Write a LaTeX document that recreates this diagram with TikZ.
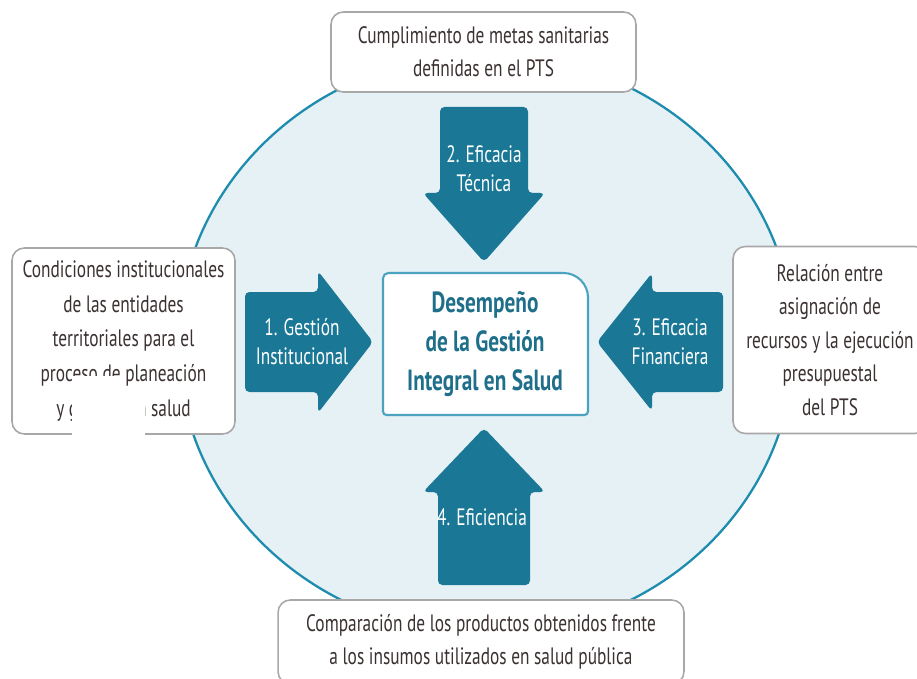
\documentclass[tikz,border=0pt]{standalone}
\usepackage{fontspec}
\setmainfont{PT Sans}[FakeStretch=0.73]
\usetikzlibrary{positioning}
\definecolor{ringblue}{HTML}{1E8CAE}
\definecolor{ringfill}{HTML}{E5F1F4}
\definecolor{arrowteal}{HTML}{1A7896}
\definecolor{coreteal}{HTML}{1F6F8B}
\definecolor{coreline}{HTML}{4BA3C0}
\definecolor{boxgray}{HTML}{A8A8A8}
\definecolor{textdark}{HTML}{3B3131}

\begin{document}
\begin{tikzpicture}[x=0.02cm,y=-0.02cm,
  outerbox/.style={draw=boxgray, line width=0.9pt, rounded corners=7pt, fill=white,
    align=center, text=textdark, font=\fontsize{13.5}{19}\selectfont, inner sep=0pt},
  arrowshape/.style={fill=arrowteal, rounded corners=2.5pt},
  arrowtext/.style={text=white, align=center, font=\fontsize{13.5}{16.5}\selectfont},
  coretext/.style={text=coreteal, align=center, font=\bfseries\fontsize{16.6}{22.4}\selectfont}]
  \useasboundingbox (0,0) rectangle (917,679);

  \fill[ringfill] (486,344) ellipse [x radius=6.16cm, y radius=5.8cm];
  \draw[ringblue, line width=1.3pt] (486,344) ellipse [x radius=6.16cm, y radius=5.8cm];

  \node[outerbox, minimum width=6.1cm, minimum height=1.6cm] (metas) at (483.5,52)
    {Cumplimiento de metas sanitarias\\definidas en el PTS};
  \node[outerbox, minimum width=4.46cm, minimum height=3.72cm,
    font=\fontsize{13.5}{19.7}\selectfont] (condiciones) at (123.5,341)
    {Condiciones institucionales\\de las entidades\\territoriales para el\\proceso de planeación\\y gestión en salud};
  \node[outerbox, minimum width=3.88cm, minimum height=3.74cm,
    font=\fontsize{13.5}{19.1}\selectfont] (relacion) at (830,340)
    {Relación entre\\asignación de\\recursos y la ejecución\\presupuestal\\del PTS};
  \node[outerbox, minimum width=8.12cm, minimum height=1.68cm] (comparacion) at (481,642)
    {Comparación de los productos obtenidos frente\\a los insumos utilizados en salud pública};
  \fill[white] (72,376) rectangle (124,440);
  \fill[white] (72,386) rectangle (145,440);

  \fill[white] (383,415) [rounded corners=3pt] -- (383,273) [rounded corners=14pt] -- (588,273)
    [rounded corners=2pt] -- (588,415) -- cycle;
  \draw[coreline, line width=1.2pt] (383,415) [rounded corners=3pt] -- (383,273) [rounded corners=14pt] -- (588,273)
    [rounded corners=2pt] -- (588,415) -- cycle;
  \node[coretext] (core) at (485,344) {Desempeño\\de la Gestión\\Integral en Salud};

  \fill[arrowshape] (245,292) -- (318,292) -- (318,271) -- (373,342) -- (318,413) -- (318,392) -- (245,392) -- cycle;
  \node[arrowtext] (gestion) at (302,342) {1. Gestión\\Institucional};

  \fill[arrowshape] (440,107) -- (528,107) -- (528,193) -- (545,193) -- (484,262) -- (423,193) -- (440,193) -- cycle;
  \node[arrowtext] (tecnica) at (484,169) {2. Eficacia\\Técnica};

  \fill[arrowshape] (723,292) -- (652,292) -- (652,273) -- (597,342) -- (652,411) -- (652,392) -- (723,392) -- cycle;
  \node[arrowtext] (financiera) at (670,342) {3. Eficacia\\Financiera};

  \fill[arrowshape] (438,585) -- (530,585) -- (530,492) -- (545,492) -- (484,428) -- (423,492) -- (438,492) -- cycle;
  \node[arrowtext] (eficiencia) at (482,517) {4. Eficiencia};
\end{tikzpicture}
\end{document}
